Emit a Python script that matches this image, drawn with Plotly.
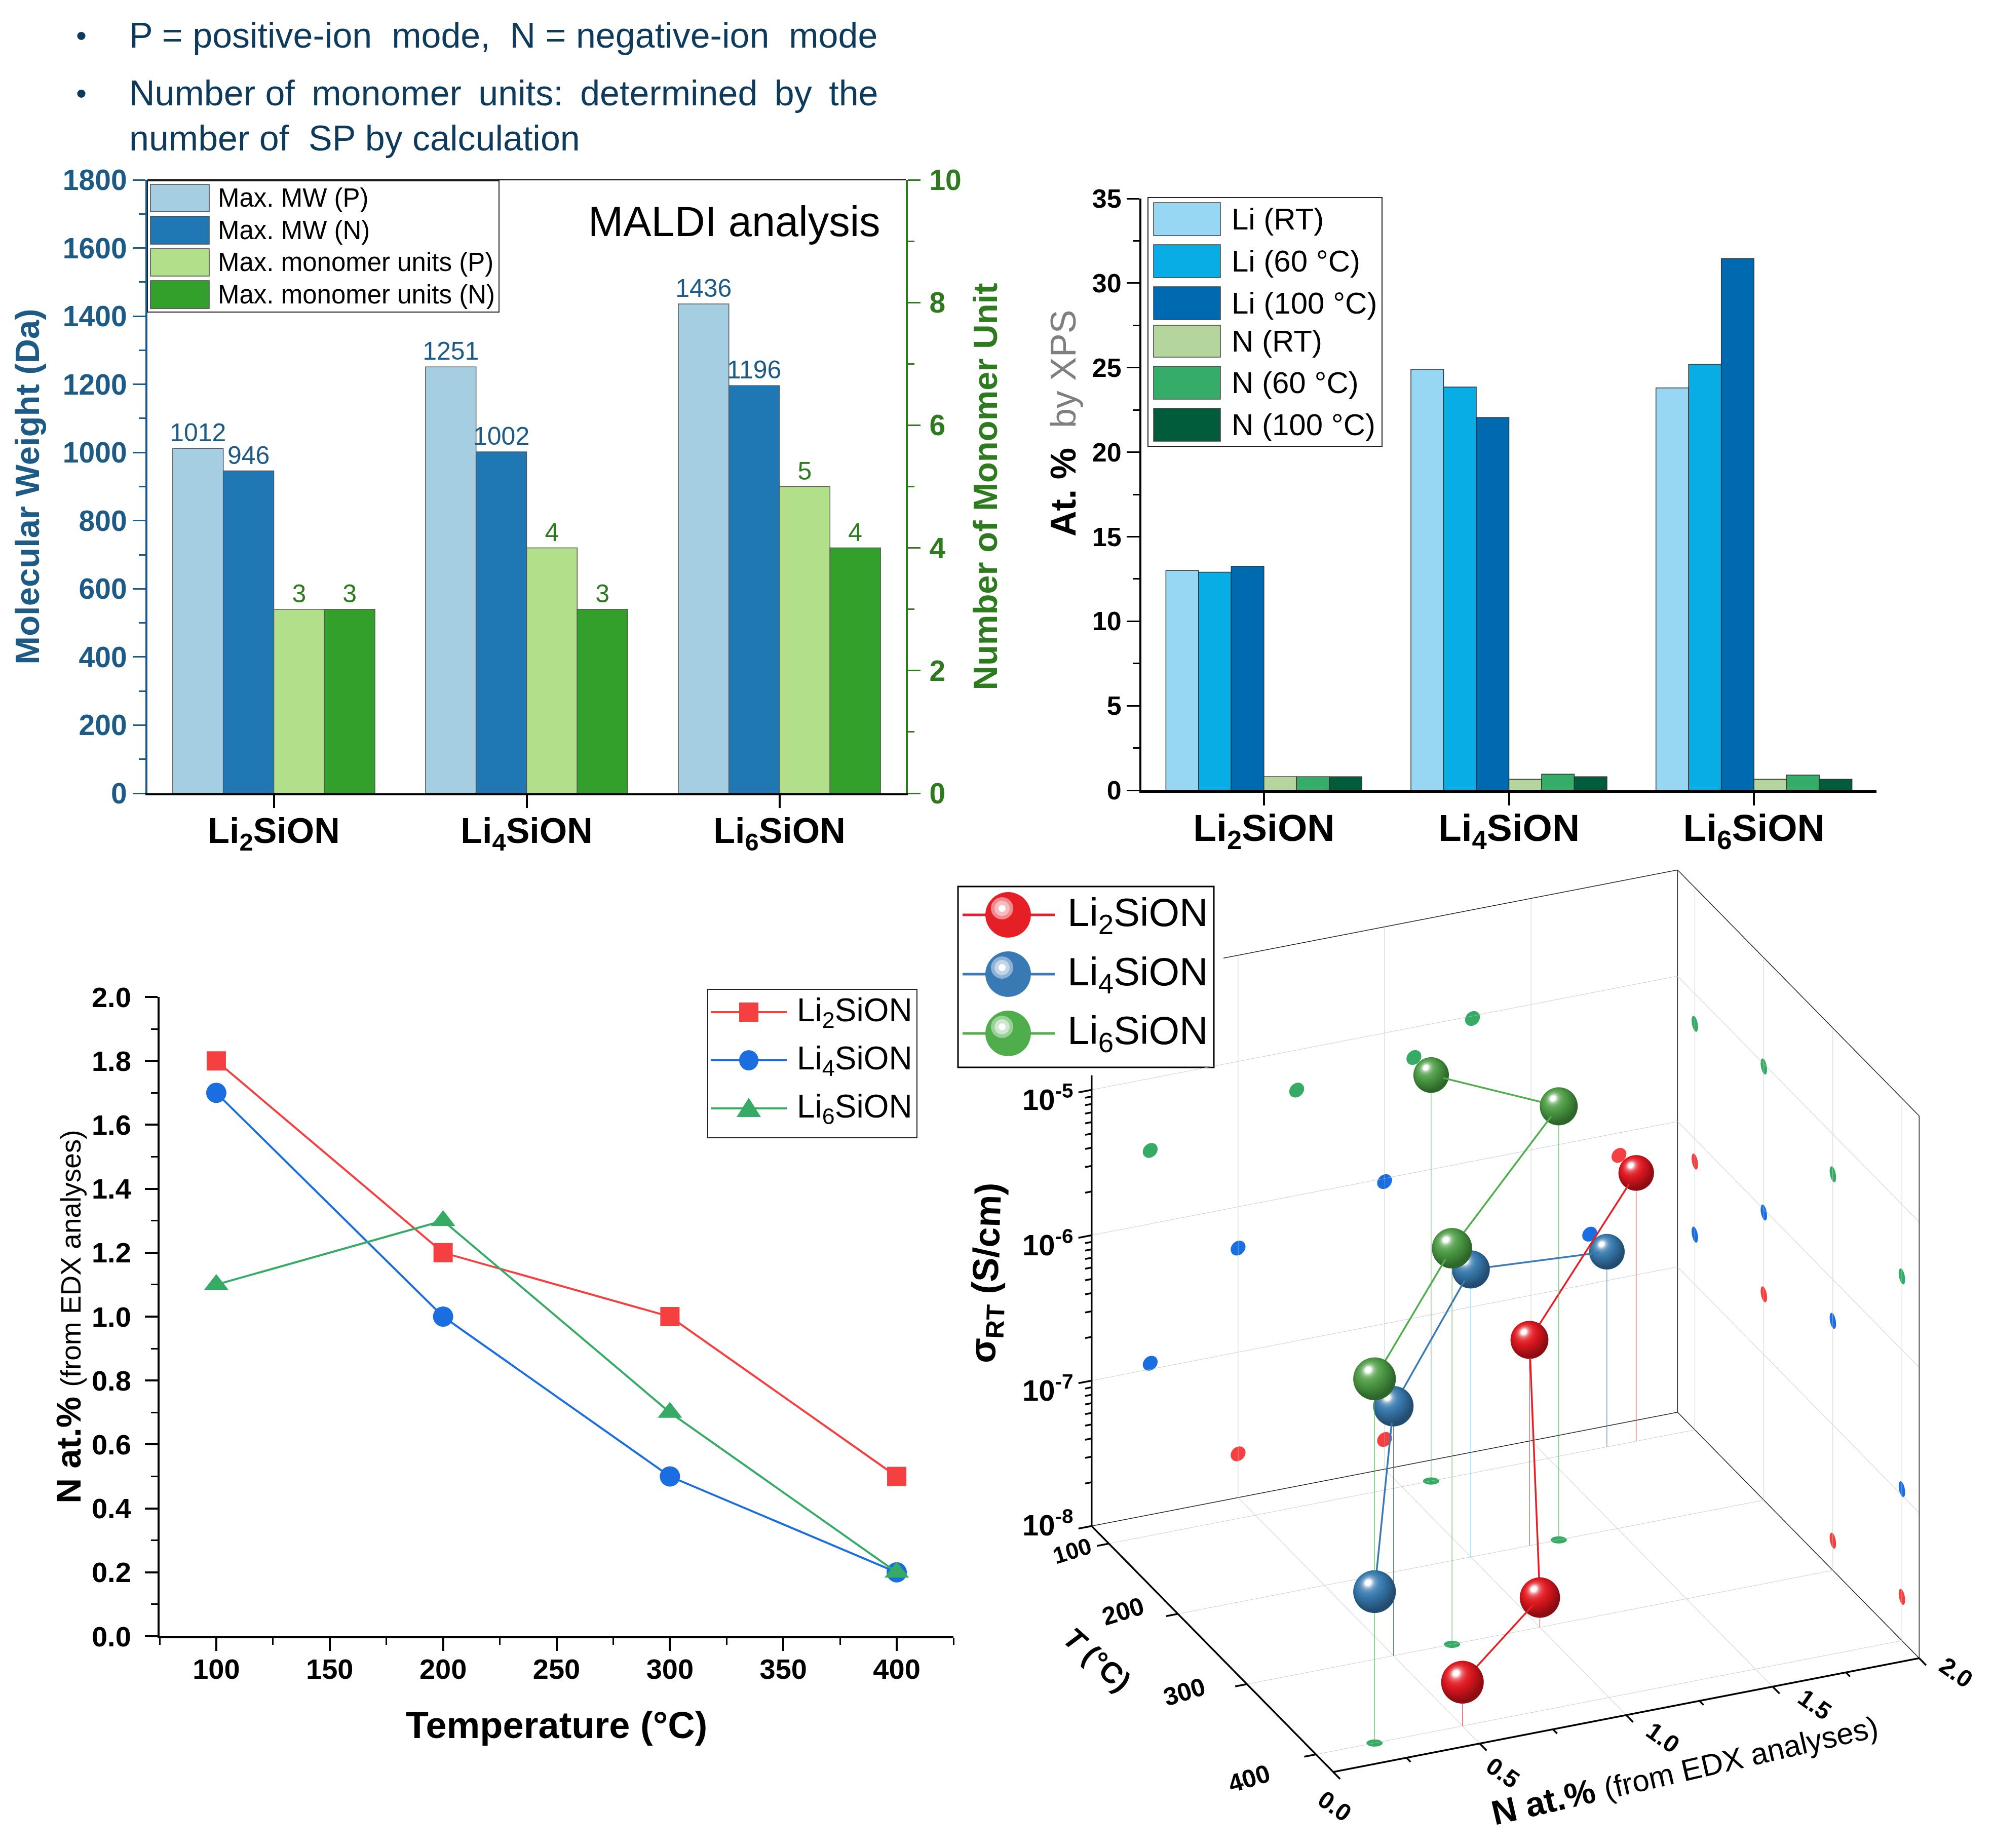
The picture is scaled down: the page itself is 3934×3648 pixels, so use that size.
import numpy as np
import plotly.graph_objects as go

W, H = 3934, 3648
FONT = "Liberation Sans"
PAGE = 8  # page margin the browser adds round the figure
def px(x): return (x - PAGE) / W
def py(y): return 1 - (y - PAGE) / H

# ---------- data ----------
cats = ["Li<sub>2</sub>SiON", "Li<sub>4</sub>SiON", "Li<sub>6</sub>SiON"]
mw_p = [1012, 1251, 1436]
mw_n = [946, 1002, 1196]
mono_p = [3, 4, 5]
mono_n = [3, 3, 4]

li_rt = [13.0, 24.9, 23.8]
li_60 = [12.9, 23.85, 25.2]
li_100 = [13.25, 22.05, 31.45]
n_rt = [0.8, 0.65, 0.65]
n_60 = [0.8, 0.95, 0.9]
n_100 = [0.8, 0.8, 0.65]

temps = [100, 200, 300, 400]
n_li2 = [1.8, 1.2, 1.0, 0.5]
n_li4 = [1.7, 1.0, 0.5, 0.2]
n_li6 = [1.1, 1.3, 0.7, 0.2]

sig_li2 = [7.0e-7, 2.6e-7, 1.6e-8, 2.0e-8]
sig_li4 = [2.2e-7, 9.5e-7, 5.2e-7, 1.1e-7]
sig_li6 = [6.2e-6, 9.6e-6, 5.3e-6, 3.2e-6]

NAVY = "#1d5b86"; DGREEN = "#2d7a1f"
C_MW_P, C_MW_N, C_M_P, C_M_N = "#a6cee3", "#1f78b4", "#b2df8a", "#33a02c"
XPS_COL = ["#97d7f4", "#08ade5", "#006ab0", "#b4d69c", "#36ac69", "#005c3a"]
RED2, BLUE2, GREEN2 = "#f44040", "#1a6ee0", "#35ab66"
LINE3D = ["#e61e25", "#397ab5", "#4fae4b"]
BALL_MID = [(224, 24, 32), (56, 122, 174), (78, 156, 70)]
BALL_DARK = [(140, 12, 18), (34, 76, 112), (46, 102, 42)]

fig = go.Figure()

# ---------- MALDI ----------
def mbar(y, col, off, name, axis, tcol):
    fig.add_trace(go.Bar(x=cats, y=y, name=name, width=0.2, offset=off, yaxis=axis, xaxis="x",
                         marker=dict(color=col, line=dict(color="#555555", width=1.5)),
                         text=[str(v) for v in y], textposition="outside", cliponaxis=False, constraintext="none",
                         textfont=dict(size=50, color=tcol, family=FONT), showlegend=False))
mbar(mw_p, C_MW_P, -0.4, "Max. MW (P)", "y", NAVY)
mbar(mw_n, C_MW_N, -0.2, "Max. MW (N)", "y", NAVY)
mbar(mono_p, C_M_P, 0.0, "Max. monomer units (P)", "y2", DGREEN)
mbar(mono_n, C_M_N, 0.2, "Max. monomer units (N)", "y2", DGREEN)

# ---------- XPS ----------
xps = [li_rt, li_60, li_100, n_rt, n_60, n_100]
xps_names = ["Li (RT)", "Li (60 °C)", "Li (100 °C)", "N (RT)", "N (60 °C)", "N (100 °C)"]
for i, (v, c, nm) in enumerate(zip(xps, XPS_COL, xps_names)):
    fig.add_trace(go.Bar(x=cats, y=v, name=nm, width=0.8/6, offset=-0.4 + i*0.8/6, xaxis="x2", yaxis="y3",
                         marker=dict(color=c, line=dict(color="#333333", width=1.5)), showlegend=False))

# ---------- N at.% vs T ----------
for y, c, sym, ms, nm in zip([n_li2, n_li4, n_li6], [RED2, BLUE2, GREEN2], ["square", "circle", "triangle-up"],
                             [38, 40, 42], ["Li2SiON", "Li4SiON", "Li6SiON"]):
    fig.add_trace(go.Scatter(x=temps, y=y, mode="lines+markers", name=nm, xaxis="x3", yaxis="y4",
                             line=dict(color=c, width=4), marker=dict(color=c, size=ms, symbol=sym, line=dict(width=0)),
                             cliponaxis=False, showlegend=False))

# ---------- 3D ----------
XR = [-0.07, 2.01]; TR = [440, 73]; ZR = [-8.02, -4.25]
LXN = 1257; LYN = 1198; LZN = 1186   # on-screen edge lengths used for round marks
def rad(p):
    return p/LXN*2, p/LYN*350, p/LZN*3.73

EYE = np.array([-0.3585, -0.8208, 0.4446])
EYE_U = EYE/np.linalg.norm(EYE)
RIGHT = np.cross([0, 0, 1], EYE_U); RIGHT /= np.linalg.norm(RIGHT)
UP = np.cross(EYE_U, RIGHT)
LV = np.array([-0.3, 0.42, 0.856]); LV /= np.linalg.norm(LV)

def sphere(cx, ct, cz, idx, p, name):
    rx, rt, rz = rad(p)
    nu, nv = 64, 42
    u = np.linspace(0, 2*np.pi, nu, endpoint=False)
    v = np.linspace(0, np.pi, nv)
    xs, ys, zs, I, J, K, cols = [], [], [], [], [], [], []
    mid = np.array(BALL_MID[idx], float); dark = np.array(BALL_DARK[idx], float)
    for vv in v:
        for uu in u:
            ux, uy, uz = np.sin(vv)*np.cos(uu), np.sin(vv)*np.sin(uu), np.cos(vv)
            xs.append(cx + rx*ux); ys.append(ct + rt*uy); zs.append(10**(np.log10(cz) + rz*uz))
            n = np.array([ux, -uy, uz])
            s = float(np.dot(n, RIGHT)*LV[0] + np.dot(n, UP)*LV[1] + np.dot(n, EYE_U)*LV[2])
            s = max(s, 0.0)
            d = min(1.0, (s*1.25)**1.4)
            col = dark + (mid - dark)*d
            t = min(1.0, 0.7*s**14 + 0.9*s**70)
            col = col + (255 - col)*t
            cols.append("rgb(%d,%d,%d)" % tuple(col))
    for a in range(nv-1):
        for b in range(nu):
            p0 = a*nu+b; p1 = a*nu+(b+1) % nu; p2 = p0+nu; p3 = p1+nu
            I += [p0, p1]; J += [p1, p3]; K += [p2, p2]
    fig.add_trace(go.Mesh3d(x=xs, y=ys, z=zs, i=I, j=J, k=K, vertexcolor=cols, name=name,
                            lighting=dict(ambient=1, diffuse=0, specular=0, roughness=1, fresnel=0),
                            hoverinfo="skip", scene="scene", showscale=False))

def discs(centers, col, plane, p=16):
    rx, rt, rz = rad(p)
    xs, ys, zs, I, J, K = [], [], [], [], [], []
    ang = np.linspace(0, 2*np.pi, 24, endpoint=False)
    for cx, ct, cz in centers:
        base = len(xs)
        lz = np.log10(cz)
        xs.append(cx); ys.append(ct); zs.append(cz)
        for a in ang:
            if plane == "back":
                xs.append(cx+rx*np.cos(a)); ys.append(ct); zs.append(10**(lz+rz*np.sin(a)))
            elif plane == "right":
                xs.append(cx); ys.append(ct+rt*np.cos(a)); zs.append(10**(lz+rz*np.sin(a)))
            else:
                xs.append(cx+rx*np.cos(a)); ys.append(ct+rt*np.sin(a)); zs.append(cz)
        for k in range(24):
            I.append(base); J.append(base+1+k); K.append(base+1+(k+1) % 24)
    fig.add_trace(go.Mesh3d(x=xs, y=ys, z=zs, i=I, j=J, k=K, color=col, hoverinfo="skip", scene="scene",
                            lighting=dict(ambient=1, diffuse=0, specular=0, roughness=1, fresnel=0)))

def seg_trace(segs, col, w):
    xs, ys, zs = [], [], []
    for a, b in segs:
        xs += [a[0], b[0], None]; ys += [a[1], b[1], None]; zs += [10**a[2], 10**b[2], None]
    fig.add_trace(go.Scatter3d(x=xs, y=ys, z=zs, mode="lines", line=dict(color=col, width=w), hoverinfo="skip",
                               showlegend=False, scene="scene"))

zmin, zmax = -8, -4.27
tfront, tback = 425, 75
x_ticks = [0, 0.5, 1.0, 1.5, 2.0]
x_minor = [0.25, 0.75, 1.25, 1.75]
t_ticks = [100, 200, 300, 400]
z_major = [-8, -7, -6, -5]
z_minor = [np.log10(m) + e for e in (-8, -7, -6) for m in range(2, 10)]

g = []
for xv in x_ticks[1:-1]:
    g += [((xv, tback, zmin), (xv, tback, zmax)), ((xv, tback, zmin), (xv, tfront, zmin))]
for tv in t_ticks:
    g += [((2, tv, zmin), (2, tv, zmax)), ((0, tv, zmin), (2, tv, zmin))]
for zv in z_major[1:]:
    g += [((0, tback, zv), (2, tback, zv)), ((2, tback, zv), (2, tfront, zv))]
seg_trace(g, "#cfcfcf", 2)
seg_trace([((0, tback, zmin), (2, tback, zmin)), ((2, tback, zmin), (2, tfront, zmin)),
           ((2, tback, zmin), (2, tback, zmax)), ((2, tfront, zmin), (2, tfront, zmax)),
           ((2, tback, zmax), (2, tfront, zmax)), ((2, tback, zmax), (0.45, tback, zmax))], "#222222", 3)
ticks = [((0, tfront, zmin), (2, tfront, zmin)), ((0, tback, zmin), (0, tfront, zmin)),
         ((0, tback, zmin), (0, tback, -4.9))]
ticks += [((v, tfront, zmin), (v, tfront+10, zmin)) for v in x_ticks]
ticks += [((v, tfront, zmin), (v, tfront+6, zmin)) for v in x_minor]
ticks += [((0, v, zmin), (-0.04, v, zmin)) for v in t_ticks]
ticks += [((0, tback, v), (-0.045, tback, v)) for v in z_major]
ticks += [((0, tback, v), (-0.022, tback, v)) for v in z_minor]
seg_trace(ticks, "#000000", 7)

series = [(n_li2, sig_li2, "Li2SiON", 0, RED2), (n_li4, sig_li4, "Li4SiON", 1, BLUE2),
          (n_li6, sig_li6, "Li6SiON", 2, GREEN2)]
for nv, sv, nm, idx, wc in series:
    fig.add_trace(go.Scatter3d(x=nv, y=temps, z=sv, mode="lines", name=nm, line=dict(color=LINE3D[idx], width=7),
                               hoverinfo="skip", showlegend=False, scene="scene"))
    seg_trace([((a, t, np.log10(b)), (a, t, zmin)) for a, t, b in zip(nv, temps, sv)], LINE3D[idx], 2)
    discs([(a, tback, b) for a, b in zip(nv, sv)], wc, "back")
    discs([(2, t, b) for t, b in zip(temps, sv)], wc, "right")
discs([(a, t, 10**zmin) for a, t in zip(n_li6, temps)], GREEN2, "floor")
for nv, sv, nm, idx, wc in series:
    for a, t, b in zip(nv, temps, sv):
        sphere(a, t, b, idx, 35 + (t-100)/300*7, nm)

scene_ann = []
for v, t, dx, dy in zip(x_ticks, ["0.0", "0.5", "1.0", "1.5", "2.0"], [3, 46, 73, 83, 73], [-68, -58, -45, -35, -28]):
    scene_ann.append(dict(x=v, y=tfront, z=zmin, text=t, showarrow=False, textangle=35, xshift=dx, yshift=dy,
                          font=dict(size=48, family=FONT, color="black", weight="bold")))
for v, dx, dy in zip(t_ticks, [-72, -109, -124, -132], [-14, 5, -15, -48]):
    scene_ann.append(dict(x=0, y=v, z=zmin, text=str(v), showarrow=False, textangle=-17, xshift=dx, yshift=dy,
                          font=dict(size=46 if v == 100 else 50, family=FONT, color="black", weight="bold")))
for e, t, dy in zip(z_major, ["10<sup>-8</sup>", "10<sup>-7</sup>", "10<sup>-6</sup>", "10<sup>-5</sup>"], [6, -15, -15, -15]):
    scene_ann.append(dict(x=0, y=tback, z=e, text=t, showarrow=False, xanchor="right", xshift=-34, yshift=dy,
                          font=dict(size=58, family=FONT, color="black", weight="bold")))

axis3 = dict(showgrid=False, zeroline=False, showline=False, showbackground=False, showspikes=False,
             showticklabels=False, ticks="", tickvals=[], title=dict(text=""))

# ---------- legends as shapes / annotations ----------
shapes, anns = [], []
def rect(x0, y0, x1, y1, fill, line="#444444", lw=1.5, layer="above"):
    shapes.append(dict(type="rect", xref="paper", yref="paper", x0=px(x0), x1=px(x1), y0=py(y0), y1=py(y1),
                       fillcolor=fill, line=dict(color=line, width=lw), layer=layer))
def label(x, y, text, size, color="black", xanchor="left", angle=0, weight=None):
    f = dict(size=size, color=color, family=FONT)
    if weight: f["weight"] = weight
    anns.append(dict(xref="paper", yref="paper", x=px(x), y=py(y), text=text, showarrow=False, font=f,
                     xanchor=xanchor, yanchor="middle", textangle=angle))

TXT = "#0e3a5c"
label(148, 70, "•", 60, TXT); label(148, 184, "•", 60, TXT)
label(253, 70, "P = positive-ion\u00a0 mode,\u00a0 N = negative-ion\u00a0 mode", 70, TXT)
label(253, 184, "Number of\u2009 monomer\u2009 units:\u2009 determined\u2009 by\u2009 the", 70, TXT)
label(253, 273, "number of\u00a0 SP by calculation", 70, TXT)
label(1449, 437, "MALDI analysis", 83, "black", xanchor="center")

rect(291, 357, 985, 616, "white", "#222222", 2)
for (y0, y1), c, t in zip([(364, 418), (427, 482), (491, 545), (554, 609)], [C_MW_P, C_MW_N, C_M_P, C_M_N],
                          ["Max. MW (P)", "Max. MW (N)", "Max. monomer units (P)", "Max. monomer units (N)"]):
    rect(297, y0, 413, y1, c)
    label(428, (y0+y1)/2, t, 51)
rect(291, 355, 1788, 355, "black", "black", 2)

rect(2266, 390, 2728, 881, "white", "#222222", 2)
for (y0, y1), c, t in zip([(400, 465), (483, 548), (566, 631), (642, 705), (723, 788), (806, 871)], XPS_COL, xps_names):
    rect(2277, y0, 2409, y1, c)
    label(2429, (y0+y1)/2, t, 60)

rect(1397, 1953, 1810, 2246, "white", "#222222", 2)
for y, c, t in zip([1998, 2093, 2188], [RED2, BLUE2, GREEN2], cats):
    shapes.append(dict(type="line", xref="paper", yref="paper", x0=px(1403), x1=px(1553), y0=py(y), y1=py(y),
                       line=dict(color=c, width=4)))
    label(1571, y, t, 64)
shapes.append(dict(type="rect", xref="paper", yref="paper", x0=px(1459), x1=px(1497), y0=py(1979), y1=py(2017),
                   fillcolor=RED2, line=dict(width=0)))
shapes.append(dict(type="circle", xref="paper", yref="paper", x0=px(1459), x1=px(1497), y0=py(2073), y1=py(2113),
                   fillcolor=BLUE2, line=dict(width=0)))
shapes.append(dict(type="path", xref="paper", yref="paper",
                   path=f"M {px(1454)} {py(2205)} L {px(1502)} {py(2205)} L {px(1478)} {py(2167)} Z",
                   fillcolor=GREEN2, line=dict(width=0)))

rect(1891, 1750, 2396, 2107, "white", "#000000", 3, layer="below")
for y, c, h1, h2, t in zip([1806, 1923, 2040], ["#e61e25", "#397ab5", "#4fae4b"], ["#f28a8e", "#8db3d6", "#9bd198"],
                           ["#f8bcbe", "#c2d6ea", "#cde8cc"], cats):
    shapes.append(dict(type="line", xref="paper", yref="paper", x0=px(1900), x1=px(2082), y0=py(y), y1=py(y),
                       line=dict(color=c, width=5)))
    for cx, cy, r, col in [(1990, y, 45, c), (1978, y-13, 22, h1), (1978, y-13, 15, h2), (1978, y-13, 7, "white")]:
        shapes.append(dict(type="circle", xref="paper", yref="paper", x0=px(cx-r), x1=px(cx+r), y0=py(cy-r), y1=py(cy+r),
                           fillcolor=col, line=dict(width=0)))
    label(2105, y, t, 78)

label(2099, 836, '<b>At. %</b>\u00a0 <span style="color:#7f7f7f">by XPS</span>', 70, "black", xanchor="center", angle=-90)
label(3325, 3492, '<b>N at.%</b> <span style="font-size:60px">(from EDX analyses)</span>', 68, "black", xanchor="center", angle=-13)
label(2166, 3275, "<i>T</i> (°C)", 58, "black", xanchor="center", angle=42, weight="bold")
label(1950, 2513, "σ<sub>RT</sub> (S/cm)", 72, "black", xanchor="center", angle=-88, weight="bold")

def tfont(size, col="black"):
    return dict(size=size, color=col, family=FONT, weight="bold")

fig.update_layout(
    width=W, height=H, margin=dict(l=0, r=0, t=0, b=0, pad=0, autoexpand=False), paper_bgcolor="white", plot_bgcolor="white",
    barmode="overlay", font=dict(family=FONT), showlegend=False,
    shapes=shapes, annotations=anns,
    xaxis=dict(domain=[px(291), px(1788)], anchor="y", type="category", categoryorder="array", categoryarray=cats, range=[-0.5, 2.5],
               ticks="outside", ticklen=25, tickwidth=4, tickcolor="black", showline=True, linecolor="black", linewidth=4,
               tickfont=tfont(70), showgrid=False, ticklabelstandoff=-15),
    yaxis=dict(domain=[py(1566), py(355)], anchor="x", range=[0, 1800], dtick=200, ticks="outside", ticklen=25, tickwidth=3,
               tickcolor=NAVY, showline=True, linecolor=NAVY, linewidth=4, tickfont=tfont(57, NAVY), showgrid=False, zeroline=False,
               minor=dict(dtick=100, ticklen=13, tickwidth=3, tickcolor=NAVY, ticks="outside", showgrid=False),
               title=dict(text="Molecular Weight (Da)", font=tfont(67, NAVY), standoff=25), ticklabelstandoff=0),
    yaxis2=dict(overlaying="y", side="right", anchor="x", range=[0, 10], dtick=2, ticks="outside", ticklen=25, tickwidth=3,
                tickcolor=DGREEN, showline=True, linecolor=DGREEN, linewidth=4, tickfont=tfont(57, DGREEN), showgrid=False, zeroline=False,
                minor=dict(dtick=1, ticklen=13, tickwidth=3, tickcolor=DGREEN, ticks="outside", showgrid=False),
                title=dict(text="Number of Monomer Unit", font=tfont(67, DGREEN), standoff=25), ticklabelstandoff=6),
    xaxis2=dict(domain=[px(2253), px(3704)], anchor="y3", type="category", categoryorder="array", categoryarray=cats, range=[-0.5, 2.5],
                ticks="outside", ticklen=25, tickwidth=4, tickcolor="black", showline=True, linecolor="black", linewidth=5,
                tickfont=tfont(75), showgrid=False, ticklabelstandoff=-20),
    yaxis3=dict(domain=[py(1560), py(392)], anchor="x2", range=[0, 35], dtick=5, ticks="outside", ticklen=25, tickwidth=3,
                tickcolor="black", showline=True, linecolor="black", linewidth=4, tickfont=tfont(52), showgrid=False, zeroline=False,
                minor=dict(dtick=2.5, ticklen=13, tickwidth=3, tickcolor="black", ticks="outside", showgrid=False), ticklabelstandoff=0),
    xaxis3=dict(domain=[px(315), px(1882)], anchor="y4", range=[75, 425], dtick=50, tick0=100, ticks="outside", ticklen=25, tickwidth=4,
                tickcolor="black", showline=True, linecolor="black", linewidth=4, tickfont=tfont(56), showgrid=False, zeroline=False,
                minor=dict(dtick=25, tick0=75, ticklen=13, tickwidth=3, tickcolor="black", ticks="outside", showgrid=False),
                ticklabelstandoff=-12, title=dict(text="Temperature (°C)", font=tfont(74), standoff=55)),
    yaxis4=dict(domain=[py(3230), py(1968)], anchor="x3", range=[0, 2], dtick=0.2, tickformat=".1f", ticks="outside", ticklen=25, tickwidth=4,
                tickcolor="black", showline=True, linecolor="black", linewidth=4, tickfont=tfont(56), showgrid=False, zeroline=False,
                minor=dict(dtick=0.1, ticklen=13, tickwidth=3, tickcolor="black", ticks="outside", showgrid=False), ticklabelstandoff=16,
                title=dict(text='<b>N at.%</b> <span style="font-size:55px">(from EDX analyses)</span>', font=dict(size=69, color="black", family=FONT), standoff=0)),
    scene=dict(domain=dict(x=[px(1984), 1], y=[0, py(1584)]), aspectmode="manual", aspectratio=dict(x=1.267, y=1.206, z=1.166),
               camera=dict(projection=dict(type="orthographic"), eye=dict(x=float(EYE[0]*1.75), y=float(EYE[1]*1.75), z=float(EYE[2]*1.75)), up=dict(x=0, y=0, z=1)),
               xaxis=dict(range=XR, **axis3),
               yaxis=dict(range=TR, **axis3),
               zaxis=dict(type="log", range=ZR, **axis3),
               annotations=scene_ann, bgcolor="rgba(0,0,0,0)"),
)
fig.write_html("out.html")
